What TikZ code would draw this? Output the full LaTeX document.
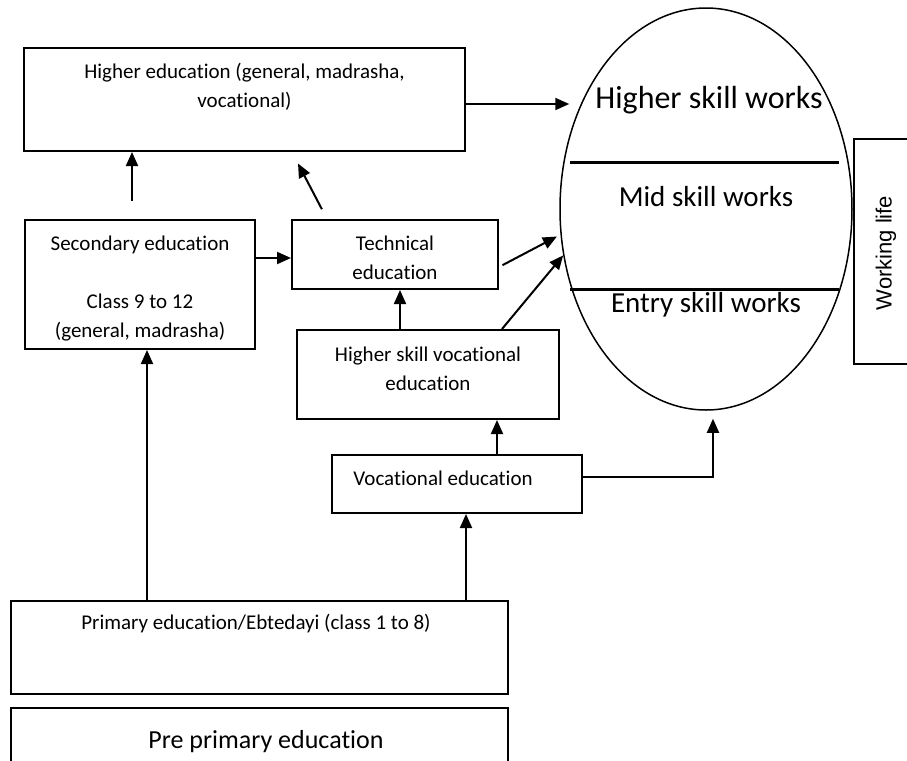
\documentclass[tikz,border=0pt]{standalone}
\usepackage{fontspec}
\setmainfont{Carlito}[Ligatures = NoCommon]
\newfontfamily\arialfont{Liberation Sans}
\usetikzlibrary{positioning,shapes.geometric,arrows.meta}

\begin{document}
\begin{tikzpicture}[x = 0.5pt, y = -0.5pt, Box/.style = {rectangle, draw = black, line width = 1pt, inner sep = 0pt}, Label/.style = {align = center, inner sep = 0pt, font = \fontsize{10.5}{14.5}\selectfont}, Big/.style = {inner sep = 0pt, font = \fontsize{14.5}{17}\selectfont}, Arrow/.style = {-{Triangle[length = 7pt, width = 6pt]}, line width = 1pt}]
        \useasboundingbox (0,0) rectangle (907,761);
        \node [Box, minimum width = 220.5pt, minimum height = 51.5pt] (1) at (244.5,99.5) {};
        \node [Box, minimum width = 115pt, minimum height = 64.5pt] (2) at (140,284.5) {};
        \node [Box, minimum width = 103pt, minimum height = 34.5pt] (3) at (395,254.5) {};
        \node [Box, minimum width = 131pt, minimum height = 44.5pt] (4) at (428,374.5) {};
        \node [Box, minimum width = 125pt, minimum height = 29pt] (5) at (457,484) {};
        \node [Box, minimum width = 248.5pt, minimum height = 46.5pt] (6) at (259.5,647.5) {};
        \node [Box, minimum width = 248.5pt, minimum height = 36pt] (7) at (259.5,744) {};
        \node [ellipse, draw = black, line width = 0.75pt, inner sep = 0pt, minimum width = 146pt, minimum height = 201pt] (8) at (706,209) {};
        \node [Box, minimum width = 38pt, minimum height = 112.5pt] (9) at (892,251.5) {};
        \node [Label] (1a) at (244.5,87) {Higher education (general, madrasha,\\vocational)};
        \node [Label] (2a) at (140,289) {Secondary education\\[14.5pt]Class 9 to 12\\(general, madrasha)};
        \node [Label] (3a) at (395,258) {Technical\\education};
        \node [Label] (4a) at (428,369) {Higher skill vocational\\education};
        \node [Label, anchor = west] (5a) at (353,478) {Vocational education};
        \node [Label] (6a) at (256,624) {Primary education/Ebtedayi (class 1 to 8)};
        \node [Big, font = \fontsize{13}{16}\selectfont] (7a) at (266,742) {Pre primary education};
        \node [Big, font = \fontsize{16}{19}\selectfont] (8a) at (709,100) {Higher skill works};
        \node [Big] (8b) at (706,197) {Mid skill works};
        \node [Big] (8c) at (706,305) {Entry skill works};
        \node [rotate = 90, inner sep = 0pt, font = \arialfont\fontsize{11}{13}\selectfont] (9a) at (886,253) {Working life};
        \draw [line width = 1.5pt] (570,162) -- (839,162);
        \draw [line width = 1.5pt] (570,289) -- (839,289);
        \draw [Arrow, shorten >= -5pt] (1.east |- 0,104) -- (8.west |- 0,104);
        \draw [Arrow, shorten <= 9pt] (132,0 |- 2.north) -- (132,0 |- 1.south);
        \draw [Arrow] (2.east |- 0,258) -- (3.west |- 0,258);
        \draw [Arrow, shorten <= 5.5pt, shorten >= 6.5pt] (327,0 |- 3.north) -- (292,0 |- 1.south);
        \draw [Arrow, shorten <= 2pt, shorten >= 2pt] (3.east |- 0,267) -- (8.190);
        \draw [Arrow] (400,0 |- 4.north) -- (400,0 |- 3.south);
        \draw [Arrow] (502,0 |- 4.north) -- (8.198);
        \draw [Arrow] (497,0 |- 5.north) -- (497,0 |- 4.south);
        \draw [Arrow, shorten >= 4pt] (5.east |- 0,477) -| (713,0 |- 8.south);
        \draw [Arrow] (147,0 |- 6.north) -- (147,0 |- 2.south);
        \draw [Arrow] (466,0 |- 6.north) -- (466,0 |- 5.south);
    \end{tikzpicture}
\end{document}
